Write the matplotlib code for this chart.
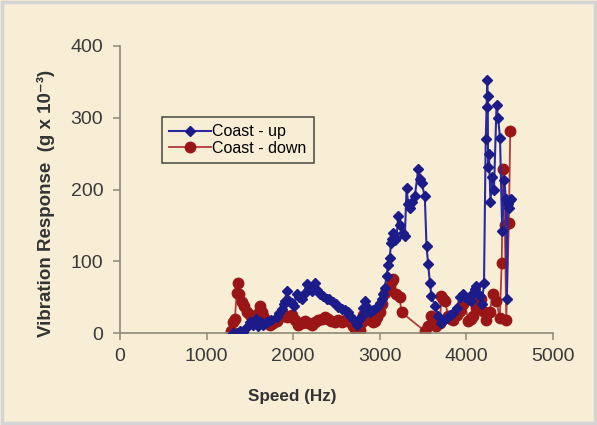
import matplotlib
matplotlib.use('Agg')
import matplotlib.pyplot as plt
from matplotlib.patches import Rectangle


# Coast-up run (speed in Hz, response in g x 10^-3)
speed_up = [1300, 1350, 1386, 1420, 1463, 1500, 1540, 1570, 1598, 1630,
            1655, 1700, 1750, 1810, 1840, 1867, 1890, 1905, 1925, 1950,
            1982, 2010, 2040, 2070, 2097, 2120, 2155, 2180, 2213, 2230,
            2252, 2280, 2310, 2350, 2387, 2420, 2463, 2490, 2521, 2560,
            2598, 2630, 2656, 2700, 2733, 2760, 2790, 2810, 2829, 2860,
            2887, 2920, 2964, 3000, 3021, 3040, 3060, 3079, 3100, 3117,
            3130, 3137, 3156, 3175, 3194, 3214, 3240, 3270, 3291, 3310,
            3330, 3348, 3370, 3406, 3445, 3465, 3483, 3521, 3541, 3560,
            3580, 3598, 3637, 3675, 3714, 3740, 3772, 3810, 3849, 3890,
            3926, 3964, 3990, 4021, 4050, 4079, 4100, 4118, 4140, 4157,
            4180, 4205, 4225, 4235, 4242, 4248, 4252, 4262, 4280, 4300,
            4320, 4350, 4368, 4390, 4415, 4440, 4458, 4470, 4480, 4492,
            4505, 4512]
resp_up = [0, 0, 3, 2, 8, 15, 12, 20, 10, 15,
           12, 15, 18, 22, 28, 33, 40, 45, 59, 45,
           42, 38, 54, 50, 47, 55, 68, 62, 59, 65,
           70, 60, 54, 52, 47, 48, 43, 40, 36, 34,
           32, 30, 24, 18, 12, 18, 24, 35, 45, 35,
           29, 32, 36, 42, 47, 55, 63, 80, 95, 105,
           125, 131, 139, 130, 133, 163, 150, 140, 135, 202,
           180, 175, 182, 191, 228, 215, 209, 191, 121, 96,
           70, 52, 38, 24, 14, 18, 21, 25, 28, 35,
           50, 54, 50, 47, 45, 56, 62, 66, 55, 52,
           40, 70, 270, 315, 352, 330, 231, 250, 183, 217,
           200, 318, 299, 272, 142, 213, 187, 48, 180, 174,
           185, 187]

# Coast-down run
speed_down = [1280, 1300, 1328, 1347, 1366, 1380, 1405, 1430, 1463, 1500,
              1540, 1570, 1600, 1617, 1635, 1655, 1690, 1732, 1770, 1810,
              1840, 1867, 1900, 1925, 1950, 1982, 2020, 2059, 2100, 2136,
              2170, 2213, 2250, 2290, 2330, 2367, 2400, 2440, 2480, 2520,
              2560, 2600, 2618, 2656, 2690, 2713, 2740, 2771, 2790, 2810,
              2848, 2887, 2920, 2944, 2970, 3002, 3030, 3060, 3090, 3117,
              3140, 3156, 3194, 3230, 3252, 3521, 3560, 3598, 3618, 3650,
              3695, 3714, 3730, 3753, 3791, 3820, 3849, 3890, 3926, 3960,
              3983, 4021, 4050, 4079, 4110, 4137, 4165, 4195, 4233, 4270,
              4310, 4349, 4387, 4410, 4422, 4445, 4462, 4492, 4508]
resp_down = [3, 15, 20, 56, 70, 55, 43, 38, 29, 25,
             24, 20, 30, 38, 30, 24, 18, 12, 14, 17,
             22, 24, 25, 22, 24, 26, 18, 12, 14, 17,
             14, 12, 15, 19, 20, 22, 20, 17, 15, 18,
             16, 18, 19, 15, 10, 6, 4, 4, 15, 26,
             31, 19, 15, 17, 22, 29, 40, 56, 62, 65,
             72, 75, 54, 50, 29, 3, 10, 24, 14, 10,
             14, 52, 48, 45, 24, 20, 19, 25, 31, 40,
             45, 17, 20, 24, 35, 45, 48, 31, 19, 30,
             54, 45, 21, 98, 228, 150, 18, 153, 281]

x_ticks = [0, 1000, 2000, 3000, 4000, 5000]
y_ticks = [0, 100, 200, 300, 400]


def render_graph() -> None:
    """Draws the coast-up / coast-down vibration chart into out.png."""
    plt.rcParams['font.family'] = ['Liberation Sans', 'DejaVu Sans']
    bg = '#f8eed5'
    axis_col = '#8c8a78'

    fig = plt.figure(figsize=(5.97, 4.25), dpi=100, facecolor=bg)
    fig.patches.append(Rectangle((0.003, 0.004), 0.994, 0.992,
                                 transform=fig.transFigure, fill=False,
                                 edgecolor='#d4d4d4', linewidth=2.5))
    ax = fig.add_axes([0.201, 0.216, 0.725, 0.676], facecolor=bg)

    ax.plot(speed_up, resp_up, color='#2a2a9e', linewidth=1.5,
            marker='D', markersize=5.2, markerfacecolor='#1b1b8a',
            markeredgecolor='#1b1b8a', label='Coast - up', zorder=3)
    ax.plot(speed_down, resp_down, color='#b23a3a', linewidth=1.3,
            marker='o', markersize=7.5, markerfacecolor='#9a1616',
            markeredgecolor='#9a1616', label='Coast - down', zorder=2)

    ax.set_xlim(0, 5000)
    ax.set_ylim(0, 400)
    ax.set_xticks(x_ticks)
    ax.set_yticks(y_ticks)
    for side in ['top', 'right']:
        ax.spines[side].set_visible(False)
    for side in ['left', 'bottom']:
        ax.spines[side].set_color(axis_col)
        ax.spines[side].set_linewidth(1.2)
    ax.tick_params(axis='both', direction='out', length=5, width=1.1,
                   color=axis_col, labelsize=14, labelcolor='#3a3a3a')
    ax.tick_params(axis='x', pad=6)
    ax.tick_params(axis='y', pad=7)

    ax.set_xlabel('Speed (Hz)', fontsize=12.3, fontweight='bold',
                  color='#333333')
    ax.xaxis.set_label_coords(0.397, -0.195)
    ax.set_ylabel('Vibration Response  (g x 10\u207b\u00b3)', fontsize=13.5,
                  fontweight='bold', color='#333333')
    ax.yaxis.set_label_coords(-0.15, 0.45)

    leg = ax.legend(loc='upper left', bbox_to_anchor=(0.097, 0.752),
                    fontsize=11.5, frameon=True, fancybox=False,
                    borderpad=0.45, labelspacing=0.1, handlelength=2.6,
                    handletextpad=0.1, borderaxespad=0)
    leg.get_frame().set_facecolor(bg)
    leg.get_frame().set_edgecolor('#55554a')
    leg.get_frame().set_linewidth(1.2)
    leg.get_frame().set_alpha(1)

    fig.savefig('out.png', dpi=100, facecolor=bg)


if __name__ == '__main__':
    render_graph()
